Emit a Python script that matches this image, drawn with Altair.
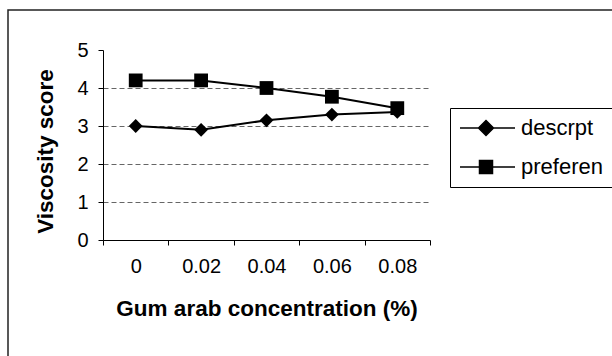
import altair as alt
import pandas as pd

conc = ["0", "0.02", "0.04", "0.06", "0.08"]
descrpt = [3.0, 2.9, 3.15, 3.3, 3.37]
preferen = [4.2, 4.2, 4.0, 3.77, 3.47]
series = ["descrpt", "preferen"]
y_ticks = [0, 1, 2, 3, 4, 5]

rows = []
for c, v in zip(conc, descrpt):
    rows.append({"conc": c, "score": v, "series": series[0]})
for c, v in zip(conc, preferen):
    rows.append({"conc": c, "score": v, "series": series[1]})
df = pd.DataFrame(rows)

FONT = "Liberation Sans"

x_enc = alt.X(
    "conc:N",
    sort=conc,
    scale=alt.Scale(domain=conc, paddingInner=0, paddingOuter=0),
    axis=alt.Axis(
        title="Gum arab concentration (%)",
        labelAngle=0,
        tickBand="extent",
        tickSize=5,
        tickColor="black",
        domainColor="black",
        labelFont=FONT,
        labelFontSize=20,
        labelColor="black",
        labelBaseline="middle",
        labelPadding=21,
        titleFont=FONT,
        titleFontSize=22.5,
        titleFontWeight="bold",
        titleColor="black",
        titleBaseline="middle",
        titleX=163.5,
        titleY=68,
        grid=False,
    ),
)
y_enc = alt.Y(
    "score:Q",
    scale=alt.Scale(domain=[0, 5], nice=False),
    axis=alt.Axis(
        title="Viscosity score",
        values=y_ticks,
        format="d",
        labelOverlap=False,
        tickSize=5,
        tickColor="black",
        domainColor="black",
        labelFont=FONT,
        labelFontSize=20,
        labelColor="black",
        labelPadding=10,
        titleFont=FONT,
        titleFontSize=22.5,
        titleFontWeight="bold",
        titleColor="black",
        titleBaseline="middle",
        titleAngle=270,
        titleX=-58,
        titleY=101,
        grid=True,
        gridColor="#666666",
        gridDash=[5, 3],
        gridOpacity={"condition": {"test": "datum.value == 5", "value": 0}, "value": 1},
    ),
)

base = alt.Chart(df)

lines = base.mark_line(color="black", strokeWidth=2).encode(
    x=x_enc, y=y_enc, detail="series:N"
)

points = base.mark_point(filled=True, color="black", size=190, opacity=1).encode(
    x=x_enc,
    y=y_enc,
    shape=alt.Shape(
        "series:N",
        scale=alt.Scale(domain=series, range=["diamond", "square"]),
        legend=None,
    ),
)

diamond_path = "M-1,0H4.5M1.6,-0.75L2.35,0L1.6,0.75L0.85,0Z"
square_path = "M-1,0H4.5M0.95,-0.65H2.25V0.65H0.95Z"

legend_layer = base.transform_filter("false").mark_point(
    filled=True, fill="black", stroke="black", strokeWidth=2, opacity=1
).encode(
    x=x_enc,
    y=y_enc,
    shape=alt.Shape(
        "series:N",
        scale=alt.Scale(domain=series, range=[diamond_path, square_path]),
        legend=alt.Legend(
            title=None,
            orient="none",
            legendX=347,
            legendY=58,
            padding=9,
            strokeColor="black",
            fillColor="white",
            labelFont=FONT,
            labelFontSize=22,
            labelColor="black",
            labelOffset=40,
            symbolSize=400,
            rowPadding=17,
            labelLimit=300,
        ),
    ),
)

frame = alt.Chart(pd.DataFrame({"a": [0]})).mark_rect(
    fill="transparent", stroke="#222222", strokeWidth=1.5
).encode(
    x=alt.value(-95), x2=alt.value(540), y=alt.value(-40), y2=alt.value(330)
)

chart = (
    alt.layer(frame, lines, points, legend_layer)
    .resolve_scale(shape="independent")
    .properties(
        width=327,
        height=190,
        padding={"left": 103, "top": 50, "right": 182, "bottom": 116},
        autosize=alt.AutoSizeParams(type="none"),
        background="white",
    )
    .configure_view(stroke=None)
)

chart.save("out.html", embed_options={"renderer": "svg", "actions": False})
